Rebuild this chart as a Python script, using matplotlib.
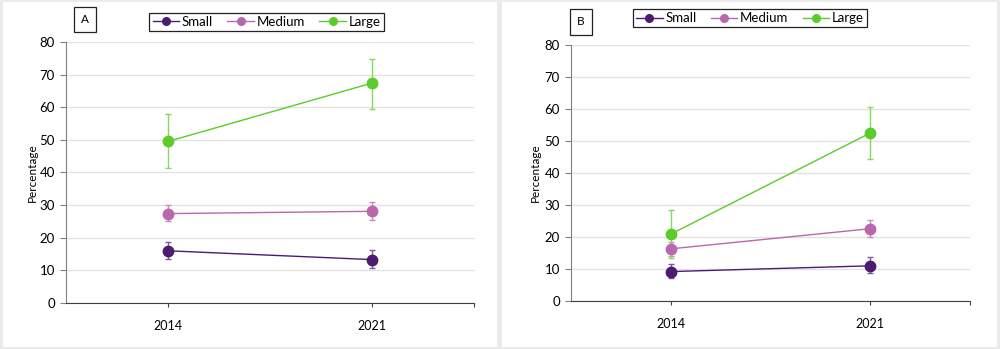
import matplotlib.pyplot as plt
from matplotlib.patches import Rectangle
from matplotlib.lines import Line2D

plt.rcParams['font.family'] = ['Lato', 'DejaVu Sans']

years = ['2014', '2021']
groups = ['Small', 'Medium', 'Large']

# panel A: mean, lower and upper error bar ends
a_mean = {'Small': [16.0, 13.3], 'Medium': [27.4, 28.1], 'Large': [49.5, 67.4]}
a_low = {'Small': [13.5, 10.8], 'Medium': [25.1, 25.4], 'Large': [41.4, 59.3]}
a_high = {'Small': [18.8, 16.3], 'Medium': [30.0, 30.8], 'Large': [58.0, 74.7]}

# panel B
b_mean = {'Small': [9.2, 11.0], 'Medium': [16.3, 22.6], 'Large': [20.9, 52.5]}
b_low = {'Small': [7.2, 8.6], 'Medium': [14.2, 20.1], 'Large': [13.4, 44.3]}
b_high = {'Small': [11.5, 13.8], 'Medium': [18.5, 25.2], 'Large': [28.4, 60.7]}

colors = {'Small': '#4d1c72', 'Medium': '#b868ab', 'Large': '#5ccb2b'}
err_colors = {'Small': '#7d5a9c', 'Medium': '#c98cc0', 'Large': '#86db5e'}

fig = plt.figure(figsize=(10, 3.49), dpi=100)
fig.patch.set_facecolor('#ebebeb')
fig.patches.append(Rectangle((0.003, 0.006), 0.494, 0.988, transform=fig.transFigure,
                             facecolor='white', edgecolor='none', zorder=-1))
fig.patches.append(Rectangle((0.502, 0.006), 0.495, 0.988, transform=fig.transFigure,
                             facecolor='white', edgecolor='none', zorder=-1))


def draw(rect, mean, low, high, letter, letter_xy, leg_center, ylab_x):
    ax = fig.add_axes(rect)
    x = range(len(years))
    for g in groups:
        m = mean[g]
        lo = [m[i] - low[g][i] for i in x]
        hi = [high[g][i] - m[i] for i in x]
        ax.errorbar(x, m, yerr=[lo, hi], fmt='none', ecolor=err_colors[g],
                    elinewidth=1, capsize=2.5, capthick=1, zorder=2)
        ax.plot(x, m, color=colors[g], lw=1, marker='o', ms=7.5, zorder=3)
    ax.set_xlim(-0.5, 1.5)
    ax.set_ylim(0, 80)
    ax.set_yticks(range(0, 81, 10))
    ax.set_xticks([0, 1, 1.5])
    ax.set_xticklabels(years + [''])
    ax.grid(axis='y', color='#e2e2e2', lw=1)
    ax.set_axisbelow(True)
    for s in ['top', 'right']:
        ax.spines[s].set_visible(False)
    ax.spines['left'].set_color('#808080')
    ax.spines['bottom'].set_color('#404040')
    ax.tick_params(axis='y', length=4, color='#808080', labelsize=9.5, pad=4)
    ax.tick_params(axis='x', length=3, color='#404040', labelsize=9, pad=9)
    ax.set_ylabel('Percentage', fontsize=8.5)
    ax.yaxis.set_label_coords(ylab_x, 0.5)
    fig.text(letter_xy[0], letter_xy[1], letter, fontsize=8.5, ha='center', va='center',
             bbox=dict(boxstyle='square,pad=0.6', facecolor='white', edgecolor='#222222', lw=0.9))
    handles = [Line2D([], [], color=colors[g], marker='o', ms=5.5, lw=1) for g in groups]
    fig.legend(handles, groups, loc='center', bbox_to_anchor=leg_center, ncol=3,
               fontsize=9.5, frameon=True, fancybox=False, edgecolor='#222222',
               handlelength=2.0, handletextpad=0.2, columnspacing=1.1,
               borderpad=0.25, framealpha=1).get_frame().set_linewidth(0.9)
    return ax


draw([0.066, 0.1318, 0.408, 0.748], a_mean, a_low, a_high, 'A', (0.085, 0.943),
     (0.2665, 0.937), -0.07)
draw([0.571, 0.1375, 0.399, 0.7335], b_mean, b_low, b_high, 'B', (0.581, 0.937),
     (0.75, 0.948), -0.075)

plt.savefig('out.png', dpi=100, facecolor=fig.get_facecolor())
